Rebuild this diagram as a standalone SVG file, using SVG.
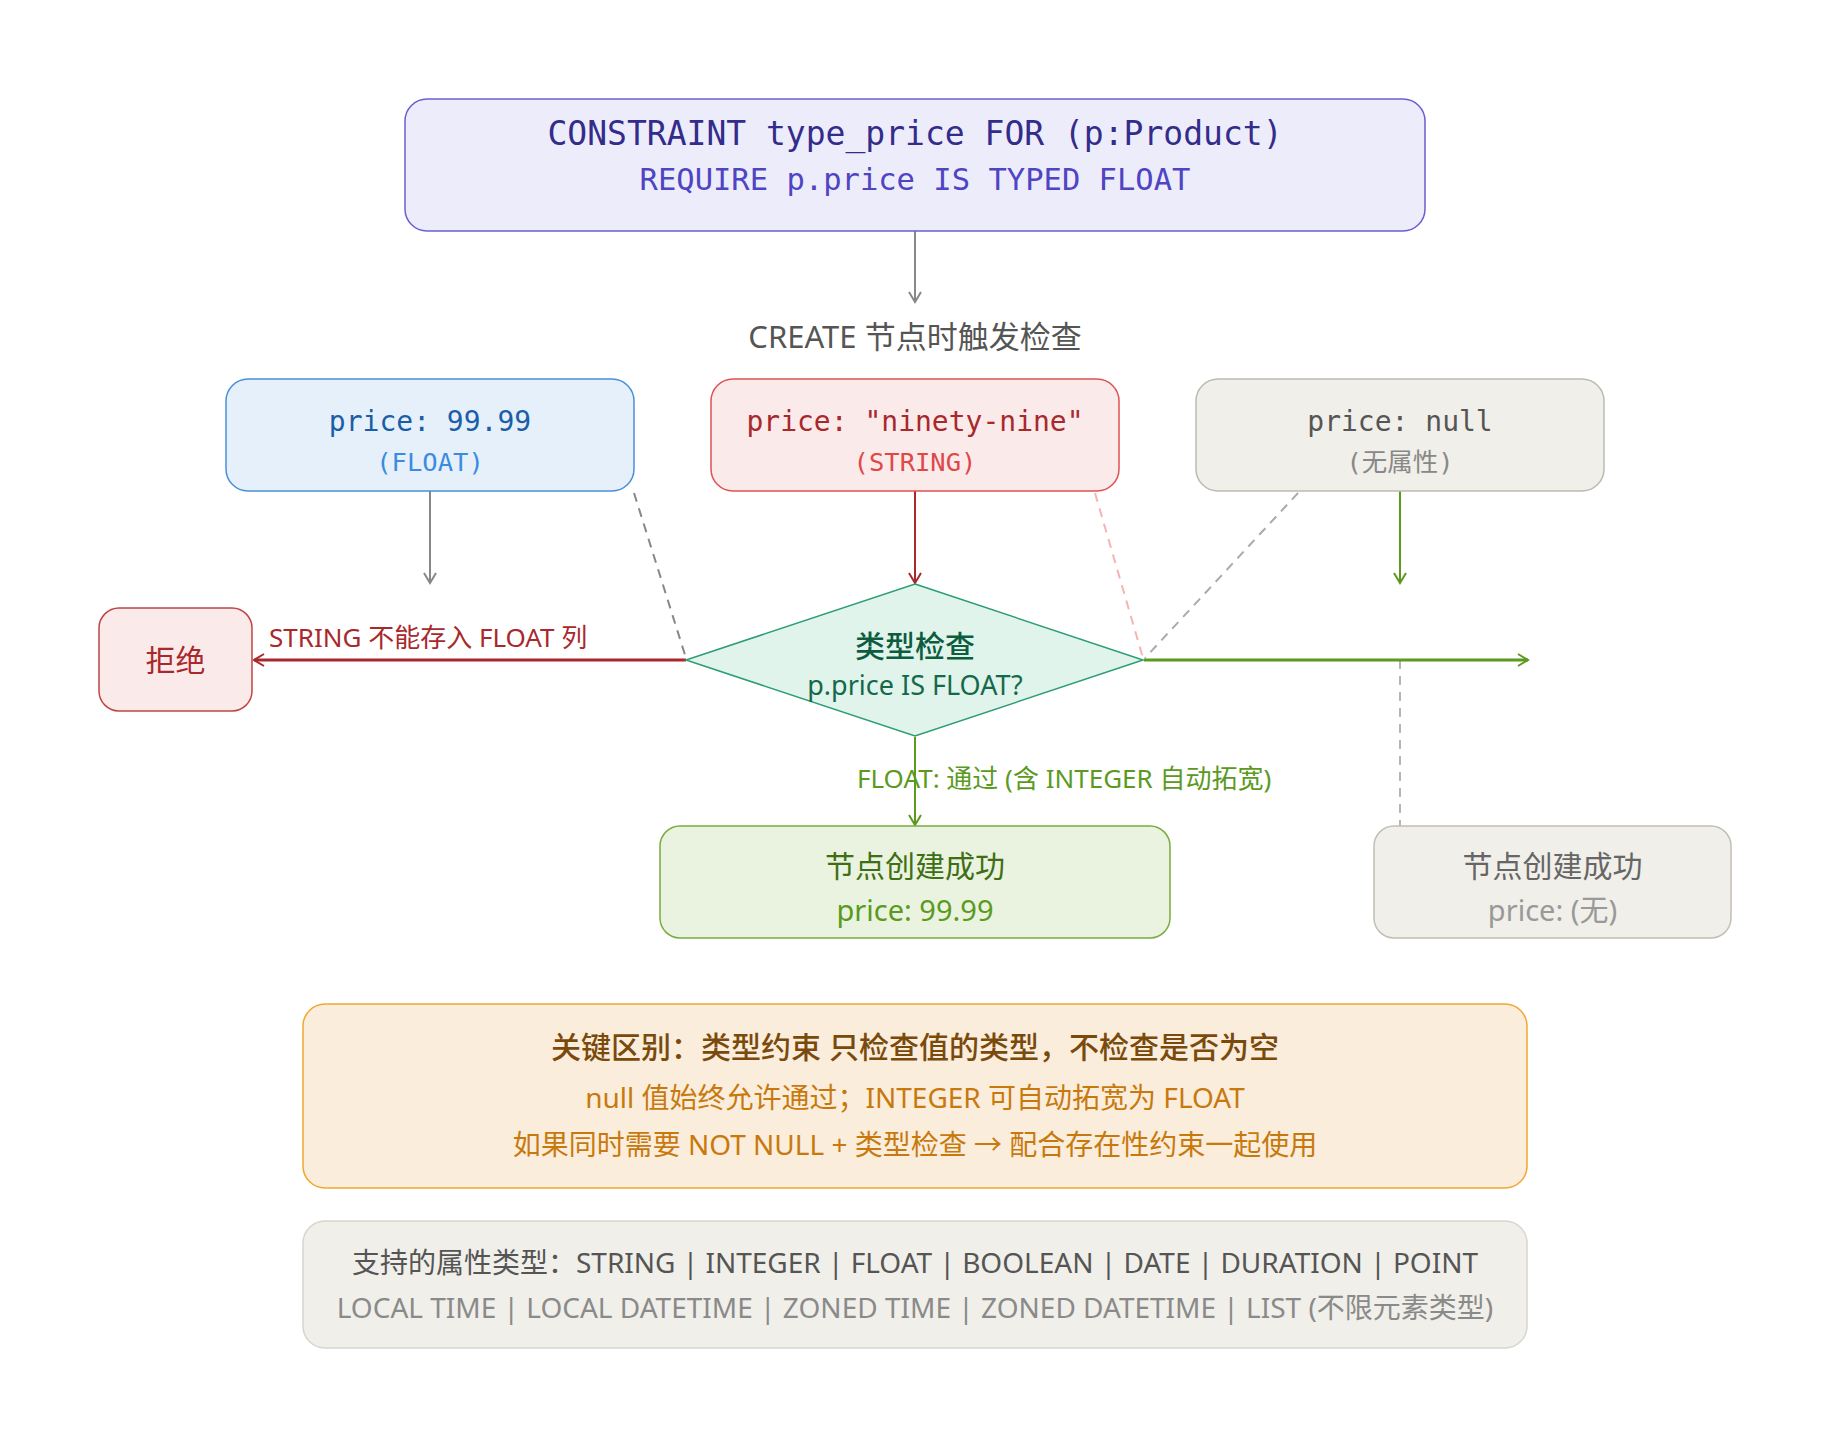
<svg xmlns="http://www.w3.org/2000/svg" width="1830" height="1434" viewBox="0 0 1830 1434">
<style>
.sans{font-family:"Noto Sans","Noto Sans CJK SC",sans-serif}
.mono{font-family:"DejaVu Sans Mono","Liberation Mono","Noto Sans CJK SC",monospace}
.c{text-anchor:middle}
.dash{fill:none;stroke-width:2;stroke-dasharray:9 7}
</style>
<defs>
<marker id="aGray" viewBox="0 0 14 14" refX="12" refY="7" markerWidth="14" markerHeight="14" markerUnits="userSpaceOnUse" orient="auto"><path d="M2,1 L12,7 L2,13" fill="none" stroke="#888" stroke-width="2"/></marker>
<marker id="aRed" viewBox="0 0 14 14" refX="12" refY="7" markerWidth="14" markerHeight="14" markerUnits="userSpaceOnUse" orient="auto"><path d="M2,1 L12,7 L2,13" fill="none" stroke="#a8282c" stroke-width="2"/></marker>
<marker id="aGreen" viewBox="0 0 14 14" refX="12" refY="7" markerWidth="14" markerHeight="14" markerUnits="userSpaceOnUse" orient="auto"><path d="M2,1 L12,7 L2,13" fill="none" stroke="#5b9a1e" stroke-width="2"/></marker>
</defs>
<rect width="1830" height="1434" fill="#ffffff"/>

<g id="connectors">
<line x1="915" y1="231" x2="915" y2="302" stroke="#888" stroke-width="2" marker-end="url(#aGray)"/>
<line x1="430" y1="491" x2="430" y2="583" stroke="#888" stroke-width="2" marker-end="url(#aGray)"/>
<line x1="915" y1="491" x2="915" y2="583" stroke="#a8282c" stroke-width="2" marker-end="url(#aRed)"/>
<line x1="1400" y1="491" x2="1400" y2="583" stroke="#5b9a1e" stroke-width="2" marker-end="url(#aGreen)"/>
<line class="dash" x1="634" y1="493" x2="686" y2="658" stroke="#888"/>
<line class="dash" x1="1095" y1="493" x2="1143" y2="658" stroke="#f4b4b4"/>
<line class="dash" x1="1298" y1="493" x2="1145" y2="658" stroke="#aaa"/>
<line class="dash" x1="1400" y1="660" x2="1400" y2="826" stroke="#b5b5b5"/>
<line x1="686" y1="660" x2="254" y2="660" stroke="#a8282c" stroke-width="3" marker-end="url(#aRed)"/>
<line x1="1144" y1="660" x2="1528" y2="660" stroke="#5b9a1e" stroke-width="3" marker-end="url(#aGreen)"/>
<line x1="915" y1="737" x2="915" y2="825" stroke="#5b9a1e" stroke-width="2" marker-end="url(#aGreen)"/>
<text class="sans" x="269" y="647" font-size="26" fill="#a8282c">STRING 不能存入 FLOAT 列</text>
<text class="sans" x="857" y="788" font-size="26" fill="#5b9a1e">FLOAT: 通过 (含 INTEGER 自动拓宽)</text>
</g>

<g id="constraint">
<rect x="405" y="99" width="1020" height="132" rx="22" fill="#edecfb" stroke="#6a5fd0" stroke-width="1.5"/>
<text class="mono c" x="915" y="145" font-size="33" fill="#332c8a">CONSTRAINT type_price FOR (p:Product)</text>
<text class="mono c" x="915" y="190" font-size="30.5" fill="#4f44c2">REQUIRE p.price IS TYPED FLOAT</text>
</g>

<g id="trigger">
<text class="sans c" x="915" y="348" font-size="31" fill="#555">CREATE 节点时触发检查</text>
</g>

<g id="float-node">
<rect x="226" y="379" width="408" height="112" rx="22" fill="#e6f0fb" stroke="#4a90d9" stroke-width="1.5"/>
<text class="mono c" x="430" y="431" font-size="28" fill="#1c5ea6">price: 99.99</text>
<text class="mono c" x="430" y="471" font-size="25.5" fill="#3b8be0">(FLOAT)</text>
</g>

<g id="string-node">
<rect x="711" y="379" width="408" height="112" rx="22" fill="#fbeaea" stroke="#e05252" stroke-width="1.5"/>
<text class="mono c" x="915" y="431" font-size="28" fill="#a8282c">price: "ninety-nine"</text>
<text class="mono c" x="915" y="471" font-size="25.5" fill="#e04848">(STRING)</text>
</g>

<g id="null-node">
<rect x="1196" y="379" width="408" height="112" rx="22" fill="#f1efe9" stroke="#bdbab2" stroke-width="1.5"/>
<text class="mono c" x="1400" y="431" font-size="28" fill="#555">price: null</text>
<text class="mono c" x="1400" y="471" font-size="25.5" fill="#888">(无属性)</text>
</g>

<g id="type-check">
<polygon points="915,584 1143,660 915,736 686,660" fill="#e0f4ec" stroke="#2a9d74" stroke-width="1.5"/>
<text class="sans c" x="915" y="657" font-size="30" font-weight="500" fill="#0d5c40">类型检查</text>
<text class="sans c" x="915" y="695" font-size="27" fill="#15694b">p.price IS FLOAT?</text>
</g>

<g id="reject">
<rect x="99" y="608" width="153" height="103" rx="20" fill="#fbeaea" stroke="#c04444" stroke-width="1.5"/>
<text class="sans c" x="175.5" y="671" font-size="30" fill="#a8282c">拒绝</text>
</g>

<g id="success-float">
<rect x="660" y="826" width="510" height="112" rx="20" fill="#e9f3df" stroke="#7aac3e" stroke-width="1.5"/>
<text class="sans c" x="915" y="877" font-size="30" fill="#3f6e14">节点创建成功</text>
<text class="sans c" x="915" y="921" font-size="29" fill="#5b9a1e">price: 99.99</text>
</g>

<g id="success-null">
<rect x="1374" y="826" width="357" height="112" rx="20" fill="#f1efe9" stroke="#c2bfb7" stroke-width="1.5"/>
<text class="sans c" x="1552.5" y="877" font-size="30" fill="#666">节点创建成功</text>
<text class="sans c" x="1552.5" y="921" font-size="29" fill="#999">price: (无)</text>
</g>

<g id="key-difference">
<rect x="303" y="1004" width="1224" height="184" rx="22" fill="#fbeddb" stroke="#f0a830" stroke-width="1.5"/>
<text class="sans c" x="915" y="1058" font-size="30" font-weight="500" fill="#7a4a0c">关键区别：类型约束 只检查值的类型，不检查是否为空</text>
<text class="sans c" x="915" y="1108" font-size="28" fill="#c8790e">null 值始终允许通过；INTEGER 可自动拓宽为 FLOAT</text>
<text class="sans c" x="915" y="1155" font-size="28" fill="#c8790e">如果同时需要 NOT NULL + 类型检查 → 配合存在性约束一起使用</text>
</g>

<g id="supported-types">
<rect x="303" y="1221" width="1224" height="127" rx="22" fill="#f1efe9" stroke="#d8d5ce" stroke-width="1.5"/>
<text class="sans c" x="915" y="1273" font-size="28" fill="#555">支持的属性类型：STRING | INTEGER | FLOAT | BOOLEAN | DATE | DURATION | POINT</text>
<text class="sans c" x="915" y="1318" font-size="28" fill="#8a8a8a">LOCAL TIME | LOCAL DATETIME | ZONED TIME | ZONED DATETIME | LIST (不限元素类型)</text>
</g>
</svg>
